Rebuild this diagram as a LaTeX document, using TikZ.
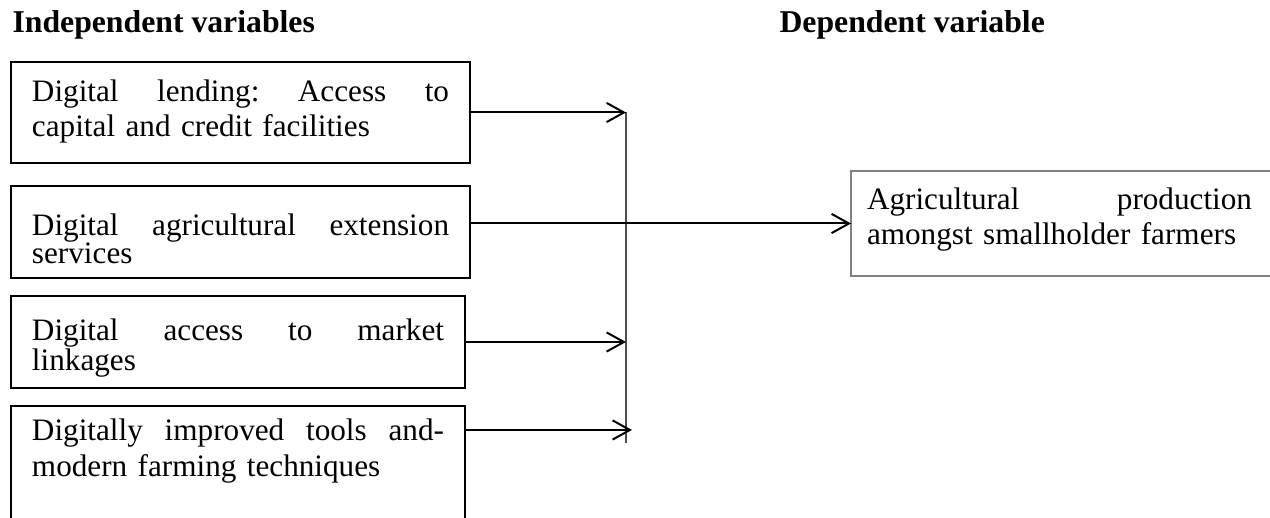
\documentclass[tikz,border=0pt]{standalone}
\usepackage{fontspec}
\setmainfont{Liberation Serif}
\usetikzlibrary{arrows.meta}
\begin{document}
\begin{tikzpicture}[x=0.375pt, y=-0.375pt,
  box/.style={draw, line width=0.75pt, anchor=north west, outer sep=0pt,
    inner xsep=7.875pt, inner ysep=0pt, align=left},
  outbox/.style={draw=black!50, line width=0.6pt, anchor=north west, outer sep=0pt,
    inner xsep=6pt, inner ysep=0pt, align=left},
  head/.style={anchor=base west, inner sep=0pt, font=\fontsize{11.9pt}{14pt}\selectfont\bfseries},
  arr/.style={line width=0.75pt, -{Straight Barb[length=6.5pt, width=7.2pt]}},
  vline/.style={draw=black!70, line width=0.5pt}]
\useasboundingbox (0,0) rectangle (1270,518);
\clip (0,0) rectangle (1270,518);

\node[head] (h1) at (12,33) {Independent variables};
\node[head] (h2) at (779,33) {Dependent variable};

\node[box, text width=156.4pt, text height=15pt, text depth=22.875pt,
  font=\fontsize{11.7pt}{13.125pt}\selectfont] (b1) at (11,62)
  {\hbox to 156.4pt{Digital\hfill lending:\hfill Access\hfill to}\\capital and credit facilities};
\node[box, text width=156.4pt, text height=18.75pt, text depth=15.75pt,
  font=\fontsize{11.7pt}{10.5pt}\selectfont] (b2) at (11,186)
  {\hbox to 156.4pt{Digital\hfill agricultural\hfill extension}\\services};
\node[box, text width=154.5pt, text height=16.875pt, text depth=17.625pt,
  font=\fontsize{11.7pt}{11.25pt}\selectfont] (b3) at (11,296)
  {\hbox to 154.5pt{Digital\hfill access\hfill to\hfill market}\\linkages};
\node[box, text width=154.5pt, text height=13.125pt, text depth=37.125pt,
  font=\fontsize{11.7pt}{13.5pt}\selectfont] (b4) at (11,406)
  {\hbox to 154.5pt{Digitally\hfill improved\hfill tools\hfill and-}\\modern farming techniques};

\node[outbox, text width=170pt, text height=14.625pt, text depth=24.75pt,
  font=\fontsize{11.7pt}{13.125pt}\selectfont] (out) at (851,171)
  {\hbox to 144.4pt{Agricultural\hfill production}\\amongst smallholder farmers};

\coordinate (vtop) at (626,112);
\coordinate (vbot) at (626,443);
\coordinate (a4e) at (632,430);

\draw[vline] (vtop) -- (vbot);
\draw[arr] (b1.east) -- (b1.east -| vtop);
\draw[arr] (b2.east |- out.west) -- (out.west);
\draw[arr] (b3.east) -- (b3.east -| vtop);
\draw[arr] (b4.north east |- a4e) -- (a4e);
\end{tikzpicture}
\end{document}
